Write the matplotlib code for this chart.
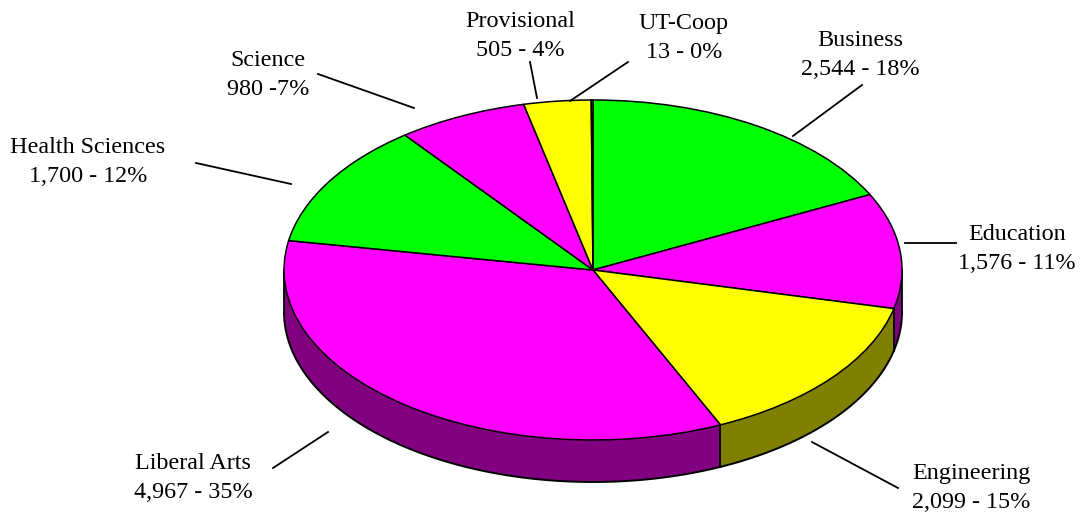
import numpy as np
from matplotlib import pyplot as plt

colleges = ["Business", "Education", "Engineering", "Liberal Arts",
            "Health Sciences", "Science", "Provisional", "UT-Coop"]
students = [2544, 1576, 2099, 4967, 1700, 980, 505, 13]
top_colors = ["#00ff00", "#ff00ff", "#ffff00", "#ff00ff",
              "#00ff00", "#ff00ff", "#ffff00", "#00ff00"]
side_colors = ["#008000", "#800080", "#808000", "#800080",
               "#008000", "#800080", "#808000", "#008000"]
labels = ["Business\n2,544 - 18%", "Education\n1,576 - 11%", "Engineering\n2,099 - 15%",
          "Liberal Arts\n4,967 - 35%", "Health Sciences\n1,700 - 12%", "Science\n980 -7%",
          "Provisional\n505 - 4%", "UT-Coop\n13 - 0%"]

# layout, in pixels of the 1080x515 picture
W, H = 1080, 515
cx, cy, rx, ry, depth = 593, 270, 309, 170, 42
label_xy = [(860, 55), (1017, 249), (971, 488), (193, 478),
            (88, 162), (268, 75), (520, 36), (684, 38)]
leader_xy = [((862, 85), (793, 136)), ((956, 243), (905, 243)), ((898, 488), (812, 442)),
             ((273, 468), (328, 432)), ((196, 163), (291, 184)), ((318, 74), (414, 108)),
             ((530, 62), (537, 98)), ((628, 62), (570, 101))]

plt.rcParams['font.family'] = ['Liberation Serif', 'DejaVu Serif']
fig = plt.figure(figsize=(W / 100, H / 100), dpi=100)

ax = fig.add_axes([(cx - rx) / W, 1 - (cy + ry) / H, 2 * rx / W, 2 * ry / H])
ax.pie(students, colors=top_colors, startangle=90, counterclock=False, radius=1,
       wedgeprops={"edgecolor": "black", "linewidth": 1.1, "zorder": 3})
ax.set_aspect("auto")
ax.set_xlim(-1, 1)
ax.set_ylim(-1, 1)
ax.axis("off")

# side wall of the lower half of the disc
edges = np.cumsum([0] + students) / sum(students) * 2 * np.pi
drop = depth / ry
for start, end, col in zip(edges[:-1], edges[1:], side_colors):
    a = max(start, np.pi / 2)
    b = min(end, 3 * np.pi / 2)
    if b <= a:
        continue
    t = np.linspace(a, b, 80)
    x, y = np.sin(t), np.cos(t)
    px = np.r_[x, x[::-1]]
    py = np.r_[y - drop, y[::-1]]
    ax.fill(px, py, facecolor=col, edgecolor="none", zorder=1, clip_on=False)
    ax.plot(x, y - drop, color="black", lw=1.4, zorder=2, clip_on=False)
    ax.plot([x[-1], x[-1]], [y[-1], y[-1] - drop], color="black", lw=1.3, zorder=2, clip_on=False)
ax.plot([1, 1], [0, -drop], color="black", lw=1.3, zorder=2, clip_on=False)

# overlay in pixel coordinates for the labels and leader lines
over = fig.add_axes([0, 0, 1, 1])
over.set_xlim(0, W)
over.set_ylim(H, 0)
over.axis("off")
over.patch.set_alpha(0)
for text, (tx, ty) in zip(labels, label_xy):
    over.text(tx, ty, text, ha="center", va="center", fontsize=17.4, linespacing=1.5)
for (x0, y0), (x1, y1) in leader_xy:
    over.plot([x0, x1], [y0, y1], color="black", lw=1.3)

fig.savefig("out.png", dpi=100)
